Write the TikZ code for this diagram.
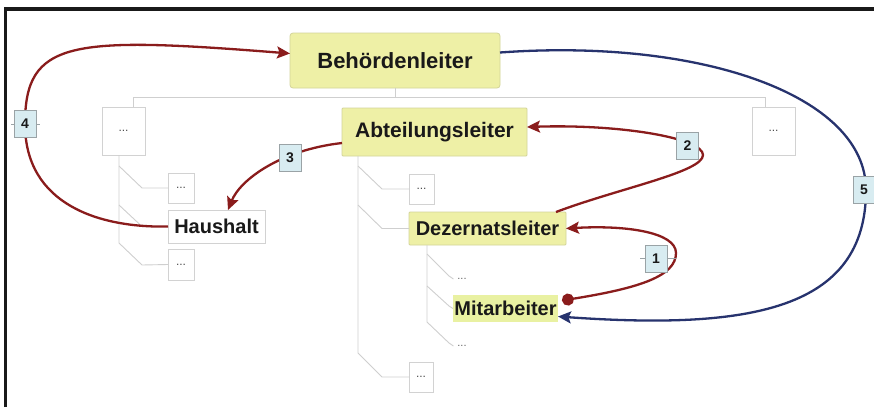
\documentclass[tikz,border=0pt]{standalone}
\usepackage{fontspec}
\setmainfont{Liberation Sans}
\usetikzlibrary{arrows.meta,calc}
\definecolor{nodeyellow}{HTML}{EEF0A6}
\definecolor{nodeborder}{HTML}{D3D49A}
\definecolor{mityellow}{HTML}{E9F1A2}
\definecolor{arrred}{HTML}{8A1C1C}
\definecolor{arrblue}{HTML}{27336E}
\definecolor{treegray}{HTML}{CFCFCF}
\definecolor{boxgray}{HTML}{D2D2D2}
\definecolor{lblfill}{HTML}{D8ECF1}
\definecolor{lblborder}{HTML}{9AA3A6}
\begin{document}
\begin{tikzpicture}[x=1pt,y=-1pt,
  every node/.style={inner sep=0pt, outer sep=0pt},
  rolebox/.style={fill=nodeyellow, draw=nodeborder, line width=0.8pt, rounded corners=3pt, text=black!90, font=\bfseries},
  mitbox/.style={fill=mityellow, text=black!90, font=\bfseries},
  plainbox/.style={fill=white, draw=boxgray, line width=0.9pt, text=black!90, font=\bfseries},
  dotbox/.style={fill=white, draw=boxgray, line width=0.9pt, text=black!70, font=\fontsize{12}{12}\selectfont},
  dottext/.style={text=black!60, font=\fontsize{11}{11}\selectfont},
  lbl/.style={fill=lblfill, draw=lblborder, line width=0.7pt, minimum width=22pt, minimum height=27pt, text=black!90, font=\bfseries\fontsize{14}{14}\selectfont},
  tree/.style={draw=treegray, line width=0.9pt},
  tick/.style={draw=lblborder, line width=0.6pt},
  headtip/.tip={Stealth[length=13pt,width=12pt,inset=2.5pt]},
  redarrow/.style={draw=arrred, line width=2.3pt, -headtip},
  bluearrow/.style={draw=arrblue, line width=2.3pt, -headtip}
]
\useasboundingbox (0,0) rectangle (874,407);
\fill[white] (0,0) rectangle (874,407);
\draw[line width=3.8pt, black!90] (5.5,407) -- (5.5,9) -- (874,9);

% main nodes
\node[rolebox, minimum width=210pt, minimum height=55pt, font=\bfseries\fontsize{22}{24}\selectfont] (Beh) at (395,60.5) {Behördenleiter};
\node[rolebox, rounded corners=1pt, minimum width=185pt, minimum height=48pt, font=\bfseries\fontsize{21}{24}\selectfont] (Abt) at (434.5,132) {Abteilungsleiter};
\node[rolebox, rounded corners=1pt, minimum width=157pt, minimum height=33pt, font=\bfseries\fontsize{20}{22}\selectfont] (Dez) at (487.5,228.5) {Dezernatsleiter};
\node[mitbox, minimum width=105pt, minimum height=27pt, font=\bfseries\fontsize{20}{22}\selectfont] (Mit) at (505.5,308.5) {Mitarbeiter};
\node[plainbox, minimum width=97pt, minimum height=33pt, font=\bfseries\fontsize{20}{22}\selectfont] (Haus) at (216.5,226.5) {Haushalt};

% placeholder nodes
\node[dotbox, minimum width=43pt, minimum height=48pt] (L1) at (123.5,131) {...};
\node[dotbox, minimum width=43pt, minimum height=48pt] (R1) at (773.5,131) {...};
\node[dotbox, minimum width=26pt, minimum height=30pt] (Lc1) at (181,188) {...};
\node[dotbox, minimum width=26pt, minimum height=31pt] (Lc3) at (181,264.5) {...};
\node[dotbox, minimum width=25pt, minimum height=30pt] (Ac1) at (421.5,189) {...};
\node[dotbox, minimum width=24pt, minimum height=30pt] (Ac3) at (421,377) {...};
\node[dottext] (Dc1) at (462,279) {...};
\node[dottext] (Dc3) at (462,346) {...};

% tree lines
\draw[tree] (Beh.south) -- ++(0,9);
\draw[tree] (133,97) -- (765,97);
\draw[tree] (133,97) -- ([xshift=9.5pt]L1.north);
\draw[tree] (765,97) -- ([xshift=-8.5pt]R1.north);
% left subtree
\draw[tree] ([xshift=-4.5pt]L1.south) -- ++(0,88) -- ++(23,22) -- (Lc3.west);
\draw[tree] ([xshift=-4.5pt]L1.south) ++(0,11) -- ++(23,22) -- (Lc1.west);
\draw[tree] ([xshift=-4.5pt]L1.south) ++(0,50) -- ++(23,21.5) -- (Haus.west);
% Abteilungsleiter subtree
\draw[tree] ([xshift=16pt]Abt.south west) -- ++(0,197) -- ++(24,24) -- (Ac3.west);
\draw[tree] ([xshift=16pt]Abt.south west) ++(0,10) -- ++(24,23) -- (Ac1.west);
\draw[tree] ([xshift=16pt]Abt.south west) ++(0,49) -- ++(24,23.5) -- (Dez.west);
% Dezernatsleiter subtree
\draw[tree] ([xshift=18pt]Dez.south west) -- ++(0,77) -- ++(22,21) -- ([xshift=-4pt]Dc3.west);
\draw[tree] ([xshift=18pt]Dez.south west) ++(0,9) -- ++(22,22) -- ([xshift=-4pt]Dc1.west);
\draw[tree] ([xshift=18pt]Dez.south west) ++(0,41) -- ++(22,20) -- (Mit.west);

% label anchors
\coordinate (c1) at (676,253);
\coordinate (c2) at (703,155);
\coordinate (c4) at (25,124);
\coordinate (c5) at (866,190);

% arrows
\draw[redarrow] (Haus.west) .. controls (100,228) and (25,205) .. (c4)
   .. controls (25,40) and (70,36) .. ([yshift=7pt]Beh.west);
\draw[bluearrow] ([yshift=8pt]Beh.east) .. controls (700,38) and (866,95) .. (c5)
   .. controls (866,310) and (750,330) .. ([yshift=-8pt]Mit.east);
\draw[redarrow, {Circle[length=12pt]}-headtip]
   ([shift={(4pt,8pt)}]Mit.east) .. controls (640,288) and (676,276) .. (c1)
   .. controls (676,232) and (625,225) .. (Dez.east);
\draw[redarrow] ([xshift=-10pt]Dez.north east) .. controls (620,188) and (703,172) .. (c2)
   .. controls (703,138) and (620,124) .. ([yshift=5pt]Abt.east);
\draw[redarrow] ([yshift=-11pt]Abt.west) .. controls (280,150) and (240,180) .. ([xshift=11.5pt]Haus.north);

% label ticks and labels
\draw[tick] (640,258.5) -- (c1 |- 0,258.5);
\draw[tick] (11,124) -- (40,124);
\node[lbl] (n1) at (656,258.5) {1};
\node[lbl] (n2) at (687.5,145.5) {2};
\node[lbl] (n3) at (290,158) {3};
\node[lbl] (n4) at (c4) {4};
\node[lbl] (n5) at (864,189.5) {5};
\end{tikzpicture}
\end{document}
